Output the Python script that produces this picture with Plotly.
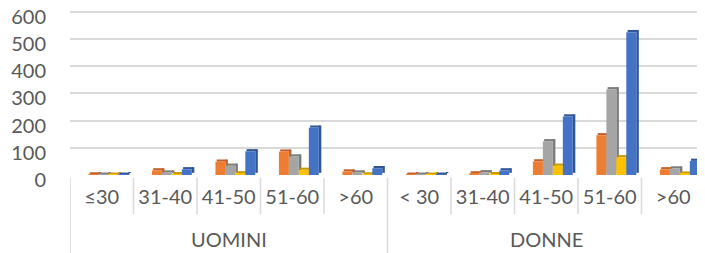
import plotly.graph_objects as go

groups = ["UOMINI"] * 5 + ["DONNE"] * 5
ages = ["≤30", "31-40", "41-50", "51-60", ">60", "< 30", "31-40", "41-50", "51-60", ">60"]

series_names = ["Serie 1", "Serie 2", "Serie 3", "Serie 4"]
orange = [2, 17, 49, 86, 13, 1, 6, 50, 146, 21]
gray = [1, 9, 34, 68, 9, 1, 10, 124, 315, 24]
yellow = [1, 3, 6, 19, 2, 1, 3, 34, 65, 5]
blue = [1, 21, 87, 174, 25, 1, 17, 215, 525, 52]

y_ticks = [0, 100, 200, 300, 400, 500, 600]
y_max = 610

colors = ["#ED7D31", "#A5A5A5", "#FFC000", "#4472C4"]
dark = ["#C0622A", "#7C7C7C", "#C99A00", "#30569A"]

# page body has an 8px margin: work in page pixels, convert to figure pixels
PAGE = 8
W, H = 705 - PAGE, 253 - PAGE
px_per_unit = 163 / 600
plot_left, plot_bottom = 70 - PAGE, 175 - PAGE
plot_top = plot_bottom - round(y_max * px_per_unit)
mt, mb, ml = plot_top, H - plot_bottom, plot_left
ph = plot_bottom - plot_top

xs = list(range(len(ages)))
fig = go.Figure()
bw = 0.157
side = 0.04
depth = 8  # y-units for 3D top face
start = -0.21
for i, (name, vals) in enumerate(zip(series_names, [orange, gray, yellow, blue])):
    off = start + i * bw
    fig.add_trace(go.Bar(x=xs, y=vals, base=depth, width=side, offset=off + bw,
                         marker=dict(color=dark[i], line=dict(width=0)), hoverinfo="skip"))
    fig.add_trace(go.Bar(x=xs, y=[depth] * len(vals), base=vals, width=bw, offset=off + side / 2,
                         marker=dict(color=dark[i], line=dict(width=0)), hoverinfo="skip"))
    fig.add_trace(go.Bar(x=xs, y=vals, name=name, width=bw, offset=off,
                         marker=dict(color=colors[i], line=dict(width=0))))

font = dict(family="Lato, Open Sans, sans-serif", size=20, color="#595959")


def py(page_px):
    return (plot_bottom - (page_px - PAGE)) / ph


shapes = []
n = len(ages)
for k in range(n + 1):
    xb = k - 0.5
    is_group = k == 0 or k == n or groups[k] != groups[k - 1]
    shapes.append(dict(type="line", xref="x", yref="paper", x0=xb, x1=xb,
                       y0=py(178), y1=py(253 if is_group else 214),
                       line=dict(color="#D9D9D9", width=1.5)))

annotations = []
seen = []
for g in groups:
    if g not in seen:
        seen.append(g)
for g in seen:
    idx = [i for i, gg in enumerate(groups) if gg == g]
    annotations.append(dict(x=sum(idx) / len(idx), xref="x", y=py(239), yref="paper",
                            text=g, showarrow=False, yanchor="middle", font=font))

fig.update_layout(
    width=W, height=H,
    margin=dict(l=ml, r=0, t=mt, b=mb),
    barmode="overlay",
    showlegend=False,
    plot_bgcolor="white", paper_bgcolor="white",
    font=font,
    shapes=shapes,
    annotations=annotations,
)
fig.update_xaxes(
    range=[-0.5, n - 0.5], tickvals=xs, ticktext=ages,
    showgrid=False, zeroline=False, showline=False, ticks="",
    tickfont=font, ticklabelstandoff=8, automargin=False,
)
fig.update_yaxes(
    range=[0, y_max], tickvals=y_ticks,
    showgrid=True, gridcolor="#D9D9D9", gridwidth=2,
    zeroline=False, showline=False,
    tickfont=font, ticklabelstandoff=23, ticklabelshift=5,
    ticklabeloverflow="allow", automargin=False,
)

fig.write_html("out.html")
